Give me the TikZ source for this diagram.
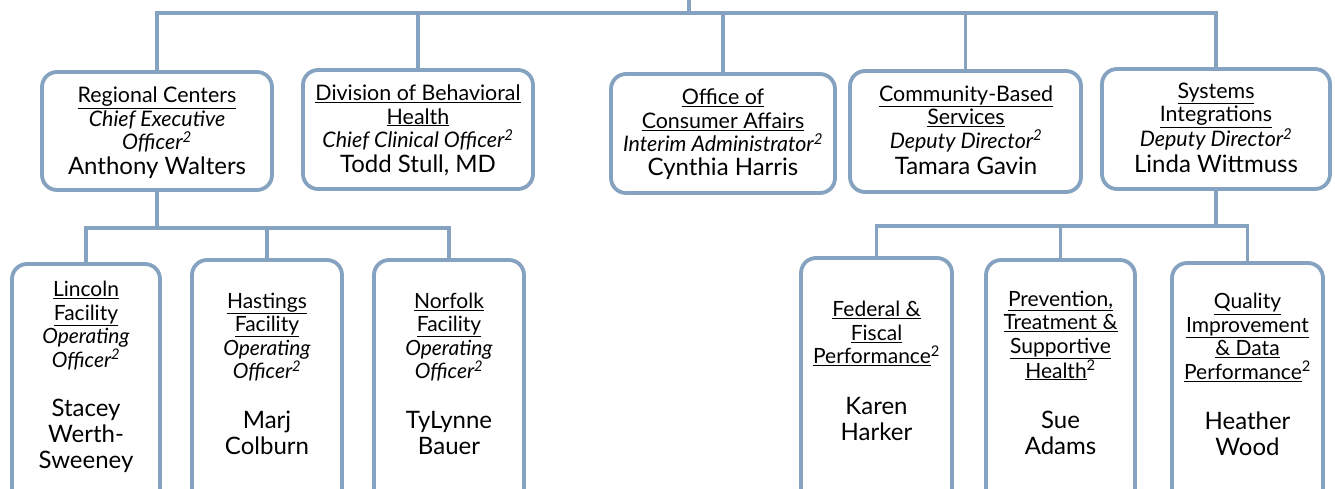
\documentclass[tikz,border=0pt]{standalone}
\usepackage{fontspec}
\setmainfont{Lato}
\definecolor{lnc}{RGB}{133,162,192}
\newcommand\ul[1]{\underline{#1}}
\newcommand\sq{\textsuperscript{2}}
\tikzset{
  x=1pt, y=-1pt,
  box/.style={draw=lnc, fill=white, line width=3.8pt, rounded corners=15pt,
    inner sep=0pt, outer sep=0pt},
  conn/.style={draw=lnc, line width=3.8pt},
  ttl/.style={align=center, inner sep=0pt, font=\fontsize{21.4}{23.5}\selectfont},
  nm/.style={align=center, inner sep=0pt, font=\fontsize{24}{26}\selectfont},
  bttl/.style={align=center, inner sep=0pt, font=\fontsize{21}{23.5}\selectfont},
}
\begin{document}
\begin{tikzpicture}
\clip (0,0) rectangle (1335,489);
\fill[white] (0,0) rectangle (1335,489);

% top-level boxes
\node[box, minimum width=230pt, minimum height=118pt] (reg) at (157,131) {};
\node[box, minimum width=230pt, minimum height=119pt] (div) at (418,129.5) {};
\node[box, minimum width=224pt, minimum height=119pt] (off) at (723,133.5) {};
\node[box, minimum width=231pt, minimum height=121pt] (com) at (965.5,131.5) {};
\node[box, minimum width=228pt, minimum height=120pt] (sys) at (1216,129) {};

% lower boxes
\node[box, minimum width=148pt, minimum height=241pt] (lin) at (86,384.5) {};
\node[box, minimum width=150pt, minimum height=245pt] (has) at (267,382.5) {};
\node[box, minimum width=150pt, minimum height=245pt] (nor) at (449,382.5) {};
\node[box, minimum width=151pt, minimum height=247pt] (fed) at (876.5,381.5) {};
\node[box, minimum width=149pt, minimum height=245pt] (pre) at (1060.5,382.5) {};
\node[box, minimum width=151pt, minimum height=242pt] (qua) at (1247.5,384) {};

% connectors
\coordinate (root) at (689,-5);
\coordinate (bus) at (689,13);
\coordinate (rbus) at (157,228);
\coordinate (sbus) at (1216,226);
\draw[conn] (root) -- (bus);
\draw[conn] (bus) -| (reg.north);
\draw[conn] (bus) -| (div.north);
\draw[conn] (bus) -| (off.north);
\draw[conn] (bus) -| (com.north);
\draw[conn] (bus) -| (sys.north);
\draw[conn] (reg.south) -- (rbus);
\draw[conn] (rbus) -| (lin.north);
\draw[conn] (rbus) -| (has.north);
\draw[conn] (rbus) -| (nor.north);
\draw[conn] (sys.south) -- (sbus);
\draw[conn] (sbus) -| (fed.north);
\draw[conn] (sbus) -| (pre.north);
\draw[conn] (sbus) -| (qua.north);

% top texts
\node[ttl] (regT) at (157,119.5) {\ul{Regional Centers}\\\textit{Chief Executive}\\\textit{Officer\sq}};
\node[nm] (regN) at (157,168) {Anthony Walters};
\node[ttl] (divT) at (418,117.5) {\ul{Division of Behavioral}\\\ul{Health}\\\textit{Chief Clinical Officer\sq}};
\node[nm] (divN) at (418,165) {Todd Stull, MD};
\node[ttl] (offT) at (723,120.5) {\ul{Office of}\\\ul{Consumer Affairs}\\\textit{Interim Administrator\sq}};
\node[nm] (offN) at (723,169) {Cynthia Harris};
\node[ttl] (comT) at (966,118.5) {\ul{Community-Based}\\\ul{Services}\\\textit{Deputy Director\sq}};
\node[nm] (comN) at (966,166) {Tamara Gavin};
\node[ttl] (sysT) at (1216,116.5) {\ul{Systems}\\\ul{Integrations}\\\textit{Deputy Director\sq}};
\node[nm] (sysN) at (1216,164) {Linda Wittmuss};

% lower texts
\node[bttl] (linT) at (86,325.5) {\ul{Lincoln}\\\ul{Facility}\\\textit{Operating}\\\textit{Officer\sq}};
\node[nm] (linN) at (86,436) {Stacey\\Werth-\\Sweeney};
\node[bttl] (hasT) at (267,337) {\ul{Hastings}\\\ul{Facility}\\\textit{Operating}\\\textit{Officer\sq}};
\node[nm] (hasN) at (267,433) {Marj\\Colburn};
\node[bttl] (norT) at (449,337) {\ul{Norfolk}\\\ul{Facility}\\\textit{Operating}\\\textit{Officer\sq}};
\node[nm] (norN) at (449,433) {TyLynne\\Bauer};
\node[bttl] (fedT) at (876.5,333.5) {\ul{Federal \&}\\\ul{Fiscal}\\\ul{Performance}\sq};
\node[nm] (fedN) at (876.5,418.5) {Karen\\Harker};
\node[bttl] (preT) at (1060.5,335.5) {\ul{Prevention,}\\\ul{Treatment \&}\\\ul{Supportive}\\\ul{Health}\sq};
\node[nm] (preN) at (1060.5,432.5) {Sue\\Adams};
\node[bttl] (quaT) at (1247.5,337.5) {\ul{Quality}\\\ul{Improvement}\\\ul{\& Data}\\\ul{Performance}\sq};
\node[nm] (quaN) at (1247.5,434) {Heather\\Wood};
\end{tikzpicture}
\end{document}
